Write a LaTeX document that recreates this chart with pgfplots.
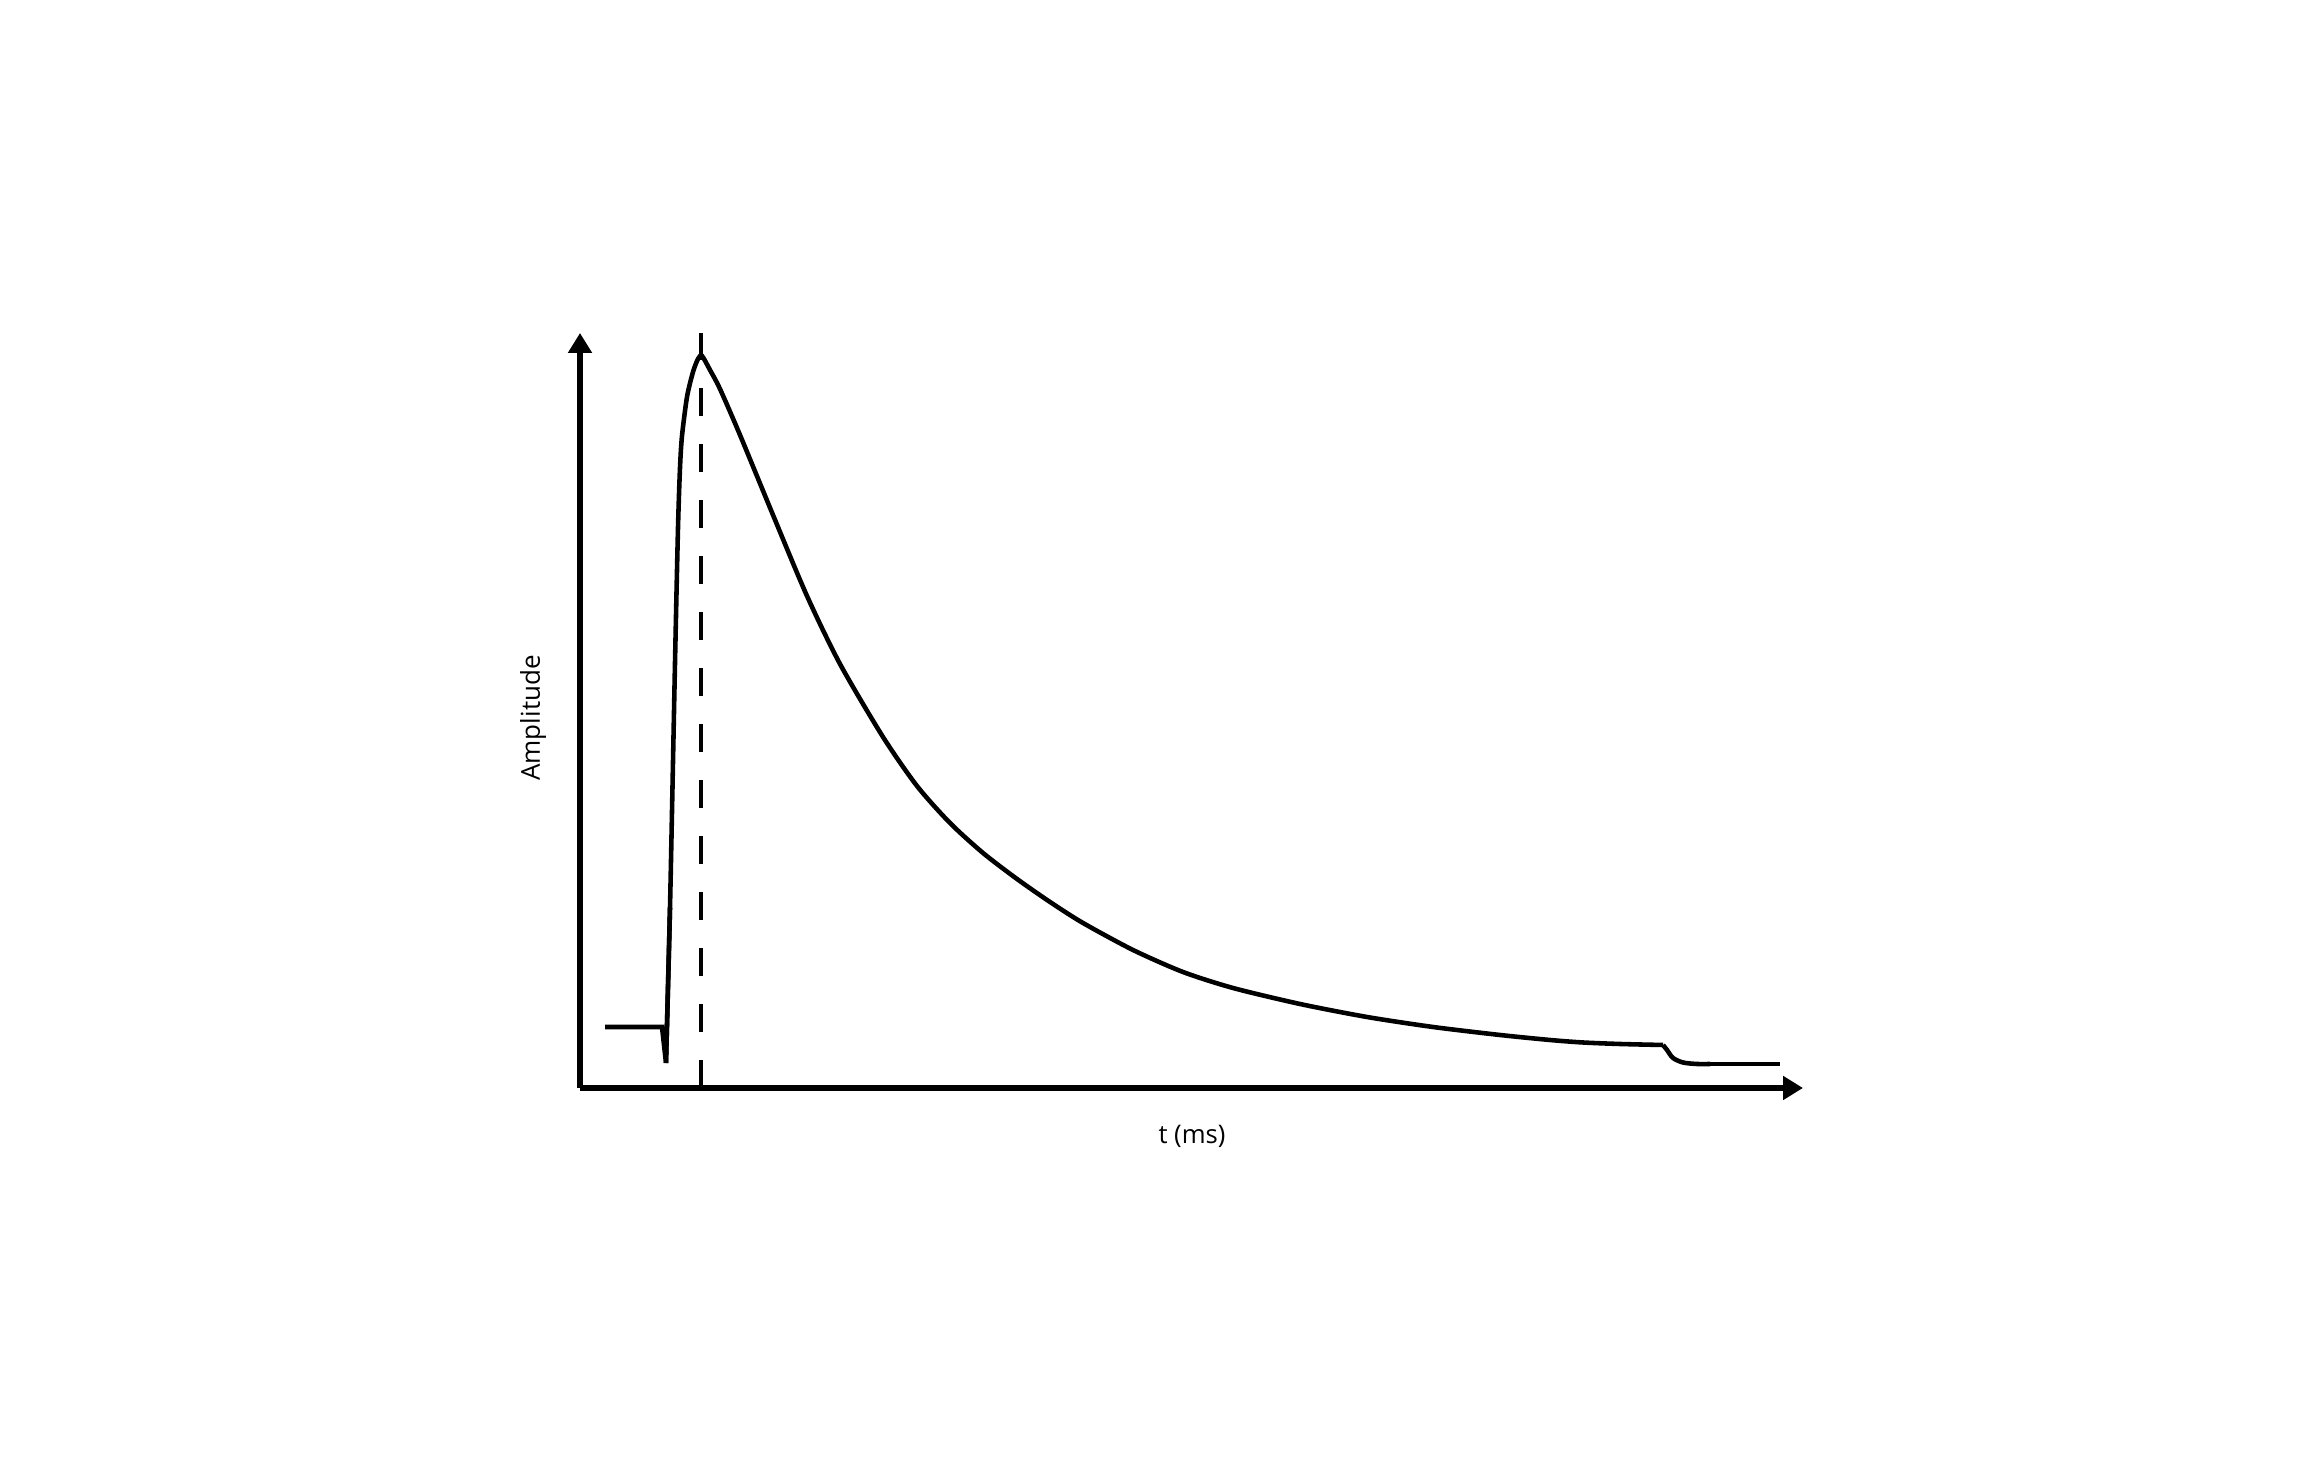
\documentclass[border=0pt]{standalone}
\usepackage{pgfplots}
\pgfplotsset{compat=1.18}
\usepackage{fontspec}
\setmainfont{Open Sans}
\usetikzlibrary{arrows.meta}
\begin{document}
\begin{tikzpicture}
\useasboundingbox (-58mm,-39.4mm) rectangle (173.3mm,108.8mm);
\begin{axis}[
  at={(0,0)}, anchor=south west,
  scale only axis, width=122.3mm, height=75.5mm,
  xmin=0, xmax=1223, ymin=0, ymax=755,
  axis lines=left,
  axis line style={line width=1.5pt, -{Triangle[width=2.3mm,length=2.0mm]}},
  xtick=\empty, ytick=\empty,
  clip=false,
]
% baseline and dip
\addplot[black, line width=1.3pt, line join=miter] coordinates {
(25,61)(82,61)(86,25)(90,180)
};
% rise, peak and decay
\addplot[black, line width=1.3pt, smooth, tension=0.45] coordinates {
(86,25)(90,180)(95,425)(98,560)(100,620)(102,652)(107,691)(113,716)(118,729)(122,732)
(130,718)(140,699)(160,653)(193,573)(227,492)(260,424)(303,351)(337,302)(370,265)(403,235)(437,209)(470,186)(503,165)(553,138)(603,116)(653,100)(720,84)(787,71)(853,61)(920,53)(970,48)(1003,45.5)(1040,44)(1083,43)
};
% final step
\addplot[black, line width=1.3pt, smooth, tension=0.5] coordinates {
(1083,43)(1087,38)(1093,30)(1103,25.5)(1117,24)(1130,24)
};
\addplot[black, line width=1.3pt] coordinates {(1117,24)(1200,24)};
\addplot[black, line width=1.2pt, dash pattern=on 2.8mm off 2.8mm] coordinates {(121,0)(121,755)};
\node[font=\fontsize{7.3}{9}\selectfont] at (axis cs:612,-48) {t (ms)};
\node[font=\fontsize{7.4}{9}\selectfont, rotate=90] at (axis cs:-47,370) {Amplitude};
\end{axis}
\end{tikzpicture}
\end{document}
